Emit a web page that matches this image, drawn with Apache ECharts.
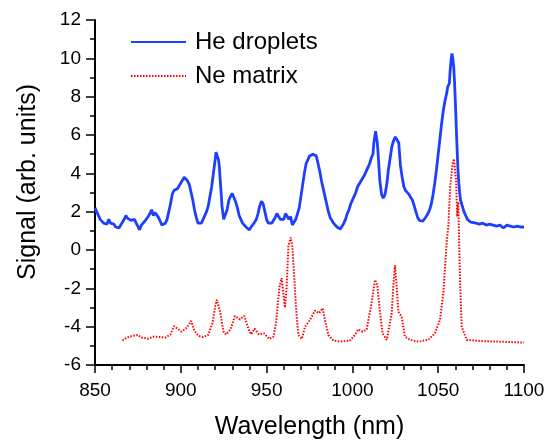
<!DOCTYPE html>
<html>
<head>
<meta charset="utf-8">
<script src="https://cdn.jsdelivr.net/npm/echarts@6/dist/echarts.min.js"></script>
<style>
html,body{margin:0;padding:0;background:#fff;overflow:hidden;}
#chart{width:548px;height:441px;}
</style>
</head>
<body>
<div id="chart"></div>
<script>
// ---- data ----
var heWavelength = [850,851,852,853,854,855,856,857,858,859,860,861,862,863,864,865,866,867,868,869,870,871,872,873,874,875,876,877,878,879,880,881,882,883,884,885,886,887,888,889,890,891,892,893,894,895,896,897,898,899,900,901,902,903,904,905,906,907,908,909,910,911,912,913,914,915,916,917,918,919,920,920.5,921,921.5,922,922.5,923,923.5,924,925,926,927,928,929,930,931,932,933,934,935,936,937,938,939,940,941,942,943,944,945,946,947,948,949,950,951,952,953,954,955,956,957,958,959,960,961,962,963,964,965,966,967,968,969,970,971,972,973,974,975,976,977,978,979,980,981,982,983,984,985,986,987,988,989,990,991,992,993,994,995,996,997,998,999,1000,1001,1002,1003,1004,1005,1006,1007,1008,1009,1010,1011,1012,1012.5,1013,1013.5,1014,1014.5,1015,1016,1017,1018,1019,1020,1021,1022,1023,1024,1025,1026,1027,1028,1029,1030,1031,1032,1033,1034,1035,1036,1037,1038,1039,1040,1041,1042,1043,1044,1045,1046,1047,1048,1049,1050,1051,1052,1053,1054,1055,1055.5,1056,1056.5,1057,1057.5,1058,1058.5,1059,1059.5,1060,1060.5,1061,1061.5,1062,1062.5,1063,1064,1065,1066,1067,1068,1069,1070,1072,1074,1076,1078,1080,1082,1084,1086,1087,1088,1090,1092,1094,1096,1098,1100];
var heSignal = [2.2,2.0,1.9,1.6,1.5,1.4,1.45,1.35,1.6,1.4,1.3,1.35,1.2,1.3,1.15,1.3,1.4,1.6,1.8,1.65,1.7,1.55,1.5,1.6,1.4,1.3,1.05,1.3,1.4,1.5,1.6,1.75,1.9,2.1,1.8,1.95,1.9,1.7,1.5,1.3,1.2,1.4,1.6,2.0,2.4,2.9,3.1,3.0,3.2,3.3,3.5,3.6,3.8,3.7,3.6,3.4,3.0,2.6,2.1,1.7,1.4,1.3,1.4,1.6,1.8,2.0,2.3,2.8,3.3,4.0,4.7,5.1,5.2,5.1,4.7,4.3,3.6,3.0,2.3,1.6,1.7,2.1,2.6,2.8,2.95,2.85,2.5,2.2,1.8,1.6,1.4,1.3,1.2,1.15,1.05,1.2,1.3,1.45,1.6,1.9,2.3,2.55,2.4,2.0,1.6,1.4,1.3,1.4,1.5,1.7,1.9,1.75,1.6,1.5,1.6,1.9,1.8,1.6,1.75,1.3,1.4,1.6,1.9,2.2,2.8,3.4,4.0,4.5,4.6,4.9,4.8,5.0,4.9,4.9,4.5,4.1,3.6,3.2,2.8,2.4,2.0,1.7,1.55,1.4,1.3,1.2,1.15,1.1,1.2,1.4,1.6,1.9,2.1,2.4,2.6,2.8,3.0,3.3,3.4,3.6,3.7,3.9,4.1,4.3,4.5,4.8,5.0,5.6,5.9,6.2,5.9,5.6,5.0,3.6,2.9,2.7,2.9,3.4,4.2,4.8,5.4,5.7,5.9,5.8,5.6,4.4,3.8,3.3,3.1,3.0,2.9,2.8,2.6,2.3,2.0,1.7,1.55,1.45,1.5,1.6,1.75,1.9,2.1,2.4,2.9,3.5,4.2,5.0,5.8,6.6,7.3,7.8,8.2,8.5,8.6,8.7,9.4,9.9,10.25,10.0,9.6,8.8,7.7,6.5,5.3,4.2,3.5,3.0,2.6,2.3,2.0,1.8,1.6,1.55,1.45,1.5,1.4,1.35,1.4,1.3,1.35,1.3,1.25,1.3,1.25,1.15,1.3,1.25,1.2,1.25,1.2,1.2,1.2];
var neWavelength = [866,868.5,871.5,875,877,881,884,888,891,894,896,898,900.5,903.5,906,908,910.5,913,916,918.5,920,921,922,923,925,926.5,929,931.5,934.5,937,939.5,941,943,945.5,948.5,951.5,954,955.5,957.5,958.8,959.7,960.7,961.7,962.7,964,965,966,967.1,968.5,970.5,972.4,975.3,978.2,980.5,982.7,984,986,989,993,998.5,1001.5,1003.4,1006,1008.3,1010.8,1013.2,1014.5,1016,1017.6,1020,1021,1022.9,1023.8,1024.8,1025.8,1026.8,1028.7,1030.6,1033.6,1038.4,1044.2,1048.1,1051,1053,1055,1055.9,1057,1058.4,1059.2,1060.4,1061.1,1061.7,1062.7,1063.7,1066.6,1075,1085,1100];
var neSignal = [-4.72,-4.57,-4.49,-4.43,-4.57,-4.63,-4.52,-4.54,-4.57,-4.4,-3.97,-4.1,-4.26,-4.05,-3.7,-4.23,-4.49,-4.54,-4.43,-3.8,-2.95,-2.6,-2.55,-3.27,-4.31,-4.4,-4.14,-3.45,-3.62,-3.44,-4.14,-4.4,-4.1,-4.4,-4.35,-4.64,-4.52,-3.82,-1.9,-1.47,-2.2,-3.0,-1.9,0.2,0.65,0.2,-1.2,-2.96,-4.43,-4.64,-4.0,-3.65,-3.16,-3.3,-3.04,-3.65,-4.43,-4.73,-4.78,-4.73,-4.43,-4.14,-4.27,-4.14,-2.96,-1.56,-1.82,-3.2,-4.35,-4.69,-4.69,-3.3,-1.91,-0.8,-1.91,-3.22,-3.48,-4.52,-4.69,-4.78,-4.69,-4.35,-3.65,-2.26,0.5,1.22,3.3,4.52,4.75,3.65,1.74,2.5,-1.56,-4.0,-4.69,-4.75,-4.78,-4.83];
var seriesNames = ['He droplets', 'Ne matrix'];
var xTitle = 'Wavelength (nm)';
var yTitle = 'Signal (arb. units)';

function zip(a, b) { return a.map(function (v, i) { return [v, b[i]]; }); }

var FONT = '"Liberation Sans", Arial, sans-serif';
var chart = echarts.init(document.getElementById('chart'), null, {renderer: 'canvas', width: 548, height: 441});
chart.setOption({
  animation: false,
  backgroundColor: '#ffffff',
  grid: {left: 95, right: 24, top: 20, bottom: 76, containLabel: false, outerBoundsMode: 'none'},
  legend: {
    left: 130, top: 30, orient: 'vertical', padding: 0, itemWidth: 55, itemHeight: 14, itemGap: 10,
    itemStyle: {opacity: 0},
    textStyle: {fontFamily: FONT, fontSize: 24, color: '#000', padding: [0, 0, 0, 4]},
    data: seriesNames
  },
  xAxis: {
    type: 'value', min: 850, max: 1100, interval: 50,
    name: xTitle, nameLocation: 'middle', nameGap: 50,
    nameTextStyle: {fontFamily: FONT, fontSize: 25, color: '#000'},
    axisLine: {onZero: false, lineStyle: {color: '#000', width: 2}},
    axisTick: {show: true, inside: false, length: 8, lineStyle: {color: '#000', width: 1.5}},
    minorTick: {show: true, splitNumber: 5, length: 5, lineStyle: {color: '#000', width: 1.5}},
    axisLabel: {fontFamily: FONT, fontSize: 19, color: '#000', margin: 16, formatter: function (v) { return String(v); }},
    splitLine: {show: false}
  },
  yAxis: {
    type: 'value', min: -6, max: 12, interval: 2,
    axisLine: {show: true, onZero: false, lineStyle: {color: '#000', width: 2}},
    axisTick: {show: true, inside: false, length: 9, lineStyle: {color: '#000', width: 1.5}},
    minorTick: {show: true, splitNumber: 2, length: 5, lineStyle: {color: '#000', width: 1.5}},
    axisLabel: {fontFamily: FONT, fontSize: 19, color: '#000', margin: 14, formatter: function (v) { return String(v); }},
    splitLine: {show: false}
  },
  graphic: [{
    type: 'text', x: 28, y: 182, rotation: Math.PI / 2,
    style: {text: yTitle, fontFamily: FONT, fontSize: 25, fill: '#000', textAlign: 'center', textVerticalAlign: 'middle'}
  }],
  series: [{
    name: seriesNames[0], type: 'line', symbol: 'none', showSymbol: false,
    data: zip(heWavelength, heSignal),
    lineStyle: {color: '#1f3fff', width: 2.8},
    itemStyle: {color: '#1f3fff'}
  }, {
    name: seriesNames[1], type: 'line', symbol: 'none', showSymbol: false,
    data: zip(neWavelength, neSignal),
    lineStyle: {color: '#ff0000', width: 2, type: [1.5, 1.5]},
    itemStyle: {color: '#ff0000'}
  }]
});
</script>
</body>
</html>
